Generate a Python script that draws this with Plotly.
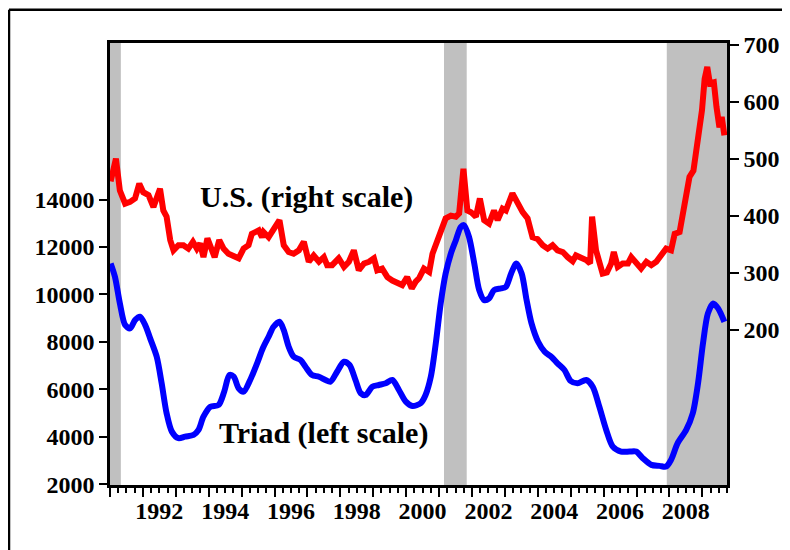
import plotly.graph_objects as go

# ── Data ──────────────────────────────────────────────────────
# U.S. series, right scale
us_t = [1991.02, 1991.18, 1991.30, 1991.46, 1991.61, 1991.76, 1991.89, 1992.01, 1992.17, 1992.32,
        1992.52, 1992.62, 1992.72, 1992.83, 1992.93, 1993.08, 1993.23, 1993.38, 1993.52, 1993.64,
        1993.74, 1993.84, 1993.96, 1994.06, 1994.18, 1994.32, 1994.45, 1994.60, 1994.75, 1994.91,
        1995.06, 1995.21, 1995.31, 1995.52, 1995.62, 1995.67, 1995.82, 1995.97, 1996.15, 1996.28,
        1996.43, 1996.58, 1996.74, 1996.89, 1997.04, 1997.19, 1997.35, 1997.50, 1997.60, 1997.75,
        1997.95, 1998.11, 1998.26, 1998.41, 1998.56, 1998.72, 1998.87, 1999.02, 1999.12, 1999.27,
        1999.43, 1999.58, 1999.73, 1999.88, 2000.03, 2000.17, 2000.29, 2000.39, 2000.54, 2000.70,
        2000.80, 2000.90, 2001.05, 2001.20, 2001.36, 2001.51, 2001.61, 2001.74, 2001.86, 2001.97,
        2002.12, 2002.24, 2002.37, 2002.52, 2002.67, 2002.78, 2002.93, 2003.03, 2003.23, 2003.38,
        2003.54, 2003.69, 2003.84, 2003.99, 2004.15, 2004.30, 2004.45, 2004.60, 2004.76, 2004.91,
        2005.06, 2005.16, 2005.32, 2005.47, 2005.59, 2005.65, 2005.77, 2005.87, 2005.97, 2006.10,
        2006.23, 2006.31, 2006.43, 2006.58, 2006.74, 2006.84, 2006.99, 2007.14, 2007.30, 2007.45,
        2007.60, 2007.75, 2007.90, 2008.05, 2008.16, 2008.31, 2008.46, 2008.61, 2008.73, 2008.87,
        2008.99, 2009.07, 2009.15, 2009.23, 2009.35, 2009.43, 2009.52, 2009.59, 2009.67]
us_claims = [460, 500, 444, 421, 424, 430, 456, 441, 436, 415,
             447, 409, 398, 357, 339, 348, 348, 342, 354, 342,
             351, 327, 360, 342, 327, 357, 342, 333, 330, 325,
             342, 348, 368, 374, 362, 371, 362, 374, 392, 348,
             336, 333, 339, 354, 319, 330, 319, 327, 313, 313,
             325, 310, 319, 339, 304, 316, 319, 325, 304, 307,
             292, 286, 283, 278, 292, 272, 284, 290, 307, 301,
             333, 348, 377, 395, 400, 398, 404, 482, 409, 406,
             398, 430, 392, 386, 409, 392, 412, 409, 439, 421,
             406, 395, 362, 359, 348, 342, 348, 339, 336, 327,
             320, 330, 327, 322, 316, 398, 339, 316, 298, 300,
             316, 336, 310, 316, 316, 327, 316, 307, 319, 313,
             319, 330, 342, 339, 368, 371, 415, 468, 479, 535,
             585, 640, 661, 632, 634, 591, 555, 573, 541]

# Triad series, left scale
triad_t = [1991.02, 1991.15, 1991.30, 1991.46, 1991.61, 1991.76, 1991.91, 1992.07, 1992.22, 1992.42,
           1992.57, 1992.72, 1992.88, 1993.08, 1993.28, 1993.54, 1993.69, 1993.84, 1994.05, 1994.30,
           1994.47, 1994.63, 1994.76, 1994.91, 1995.06, 1995.26, 1995.47, 1995.65, 1995.82, 1995.97,
           1996.15, 1996.28, 1996.43, 1996.58, 1996.79, 1996.94, 1997.14, 1997.35, 1997.55, 1997.70,
           1997.90, 1998.11, 1998.28, 1998.46, 1998.62, 1998.77, 1998.97, 1999.17, 1999.38, 1999.58,
           1999.78, 1999.99, 2000.19, 2000.44, 2000.59, 2000.75, 2000.90, 2001.05, 2001.20, 2001.36,
           2001.51, 2001.66, 2001.76, 2001.91, 2002.07, 2002.22, 2002.37, 2002.52, 2002.67, 2002.88,
           2003.03, 2003.19, 2003.35, 2003.51, 2003.66, 2003.81, 2004.01, 2004.21, 2004.41, 2004.60,
           2004.81, 2005.00, 2005.21, 2005.47, 2005.67, 2005.87, 2006.08, 2006.28, 2006.53, 2006.79,
           2006.99, 2007.19, 2007.45, 2007.70, 2007.90, 2008.05, 2008.25, 2008.51, 2008.71, 2008.87,
           2009.02, 2009.17, 2009.33, 2009.48, 2009.67]
triad_claims = [11305, 10741, 9621, 8707, 8568, 8918, 9057, 8707, 8147, 7373,
                6253, 4989, 4215, 3937, 4004, 4076, 4286, 4846, 5267, 5339,
                5899, 6602, 6531, 6042, 5899, 6392, 7095, 7750, 8215, 8636,
                8846, 8497, 7794, 7373, 7234, 6952, 6602, 6531, 6392, 6322,
                6741, 7162, 7023, 6392, 5832, 5760, 6109, 6181, 6253, 6392,
                5971, 5478, 5297, 5411, 5760, 6531, 7937, 9621, 10884, 11726,
                12286, 12846, 12918, 12425, 11305, 10181, 9760, 9832, 10181, 10253,
                10320, 10884, 11305, 10884, 9760, 8779, 8004, 7583, 7373, 7095,
                6813, 6350, 6253, 6392, 6109, 5267, 4286, 3583, 3373, 3373,
                3373, 3095, 2813, 2771, 2741, 3023, 3726, 4286, 4989, 6253,
                7937, 9200, 9621, 9411, 8846]

# recessions (start, end)
recessions = [(1991.0, 1991.33), (2001.15, 2001.84), (2007.92, 2009.75)]

year_labels = [1992, 1994, 1996, 1998, 2000, 2002, 2004, 2006, 2008]
left_ticks = [2000, 4000, 6000, 8000, 10000, 12000, 14000]
right_ticks = [200, 300, 400, 500, 600, 700]

X_RANGE = [1991.0, 2009.75]
SERIF = "Liberation Serif"
TICKFONT = dict(family=SERIF, size=24, color="black", weight="bold")

fig = go.Figure()

fig.add_trace(go.Scatter(
    x=us_t, y=us_claims, yaxis="y2", mode="lines",
    line=dict(color="#FF0000", width=6), showlegend=False,
))
fig.add_trace(go.Scatter(
    x=triad_t, y=triad_claims, mode="lines",
    line=dict(color="#0000FF", width=6, shape="spline", smoothing=0.8),
    showlegend=False,
))
# carrier for the year labels axis
fig.add_trace(go.Scatter(x=[], y=[], xaxis="x2", showlegend=False))

for a, b in recessions:
    fig.add_vrect(x0=a, x1=b, fillcolor="#C0C0C0", opacity=1,
                  line_width=0, layer="below")

# outer frame (page has an 8px body margin)
fig.add_shape(type="line", xref="paper", yref="paper",
              x0=-0.1637, x1=-0.1637, y0=1.075, y1=-0.3,
              line=dict(color="black", width=2.5))
fig.add_shape(type="line", xref="paper", yref="paper",
              x0=-0.1637, x1=1.2, y0=1.075, y1=1.075,
              line=dict(color="black", width=2.5))

fig.add_annotation(x=1996.98, y=432, xref="x", yref="y2",
                   text="U.S. (right scale)", showarrow=False,
                   font=dict(family=SERIF, size=30, color="black", weight="bold"))
fig.add_annotation(x=1997.5, y=4160, xref="x", yref="y",
                   text="Triad (left scale)", showarrow=False,
                   font=dict(family=SERIF, size=30, color="black", weight="bold"))

fig.update_layout(
    template="none",
    width=782, height=542,
    margin=dict(l=102, r=63, t=35, b=65, autoexpand=False),
    paper_bgcolor="white", plot_bgcolor="white",
    xaxis=dict(
        range=X_RANGE, tickmode="linear", tick0=1991, dtick=1, automargin=False,
        ticks="outside", ticklen=9, tickwidth=1.5, tickcolor="black",
        showticklabels=False, showgrid=False, zeroline=False,
        showline=True, linecolor="black", linewidth=2.5, mirror=True,
        minor=dict(tickmode="linear", tick0=1991, dtick=0.25, ticks="outside",
                   ticklen=5, tickwidth=1.5, tickcolor="black", showgrid=False),
    ),
    xaxis2=dict(
        range=X_RANGE, overlaying="x", anchor="y", side="bottom", automargin=False,
        tickmode="array", tickvals=[y + 0.5 for y in year_labels],
        ticktext=[str(y) for y in year_labels], ticks="", ticklen=0,
        ticklabelstandoff=9,
        tickfont=TICKFONT, showgrid=False, zeroline=False, showline=False,
    ),
    yaxis=dict(
        range=[1965, 20600], tickmode="array", tickvals=left_ticks, automargin=False,
        tickformat="d", ticks="outside", ticklen=8, tickwidth=1.5, tickcolor="black",
        tickfont=TICKFONT, showgrid=False, zeroline=False,
        showline=True, linecolor="black", linewidth=2.5,
    ),
    yaxis2=dict(
        range=[-73, 703], overlaying="y", side="right", anchor="x", automargin=False,
        tickmode="array", tickvals=right_ticks,
        ticks="outside", ticklen=9, tickwidth=1.5, tickcolor="black",
        tickfont=TICKFONT, showgrid=False, zeroline=False,
        showline=True, linecolor="black", linewidth=2.5,
    ),
)

fig.write_html("out.html")
